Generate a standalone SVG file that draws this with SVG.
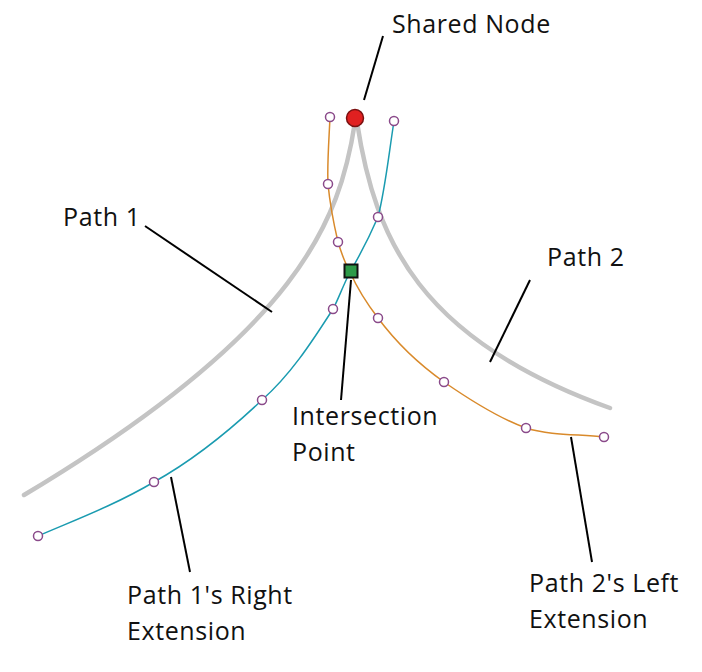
<svg xmlns="http://www.w3.org/2000/svg" width="702" height="672" viewBox="0 0 702 672">
<style>
.lbl{font-family:"Open Sans","Noto Sans",sans-serif;font-size:25px;letter-spacing:0.6px;fill:#111}
.leader{stroke:#000;stroke-width:2;fill:none}
.gray{stroke:#c4c4c4;stroke-width:4.5;fill:none;stroke-linecap:round}
.ext1{stroke:#1a9bb0;stroke-width:1.5;fill:none}
.ext2{stroke:#d98a2b;stroke-width:1.5;fill:none}
.pt{fill:#fff;stroke:#8a4a8a;stroke-width:1.5}
</style>
<rect width="702" height="672" fill="#fff"/>
<g id="connectors">
<path class="gray" d="M355,122 C340,220 300,330 24,495"/>
<path class="gray" d="M357,122 C375,240 420,340 610,408"/>
<path class="ext1" d="M394,121 C388,160 385,190 378,217 C368,240 360,255 350,272 C342,288 338,300 333,309 C310,345 290,375 262,400 C225,435 190,462 154,482 C115,505 75,520 38,536"/>
<path class="ext2" d="M330,117 C329,140 327,165 328,184 C330,205 334,225 338,242 C342,255 346,265 350,272 C358,290 368,305 378,318 C398,345 420,365 444,382 C470,400 498,418 526,428 C552,436 580,434 604,437"/>
<line class="leader" x1="383" y1="36" x2="364" y2="100"/>
<line class="leader" x1="145" y1="226" x2="272" y2="312"/>
<line class="leader" x1="530" y1="280" x2="490" y2="362"/>
<line class="leader" x1="351" y1="280" x2="341" y2="400"/>
<line class="leader" x1="171" y1="477" x2="190" y2="572"/>
<line class="leader" x1="571" y1="437" x2="592" y2="562"/>
</g>
<g id="ext-points">
<circle class="pt" cx="394" cy="121" r="4.5"/>
<circle class="pt" cx="378" cy="217" r="4.5"/>
<circle class="pt" cx="333" cy="309" r="4.5"/>
<circle class="pt" cx="262" cy="400" r="4.5"/>
<circle class="pt" cx="154" cy="482" r="4.5"/>
<circle class="pt" cx="38" cy="536" r="4.5"/>
<circle class="pt" cx="330" cy="117" r="4.5"/>
<circle class="pt" cx="328" cy="184" r="4.5"/>
<circle class="pt" cx="338" cy="242" r="4.5"/>
<circle class="pt" cx="378" cy="318" r="4.5"/>
<circle class="pt" cx="444" cy="382" r="4.5"/>
<circle class="pt" cx="526" cy="428" r="4.5"/>
<circle class="pt" cx="604" cy="437" r="4.5"/>
</g>
<g id="shared-node"><circle cx="355" cy="118" r="8.5" fill="#e02020" stroke="#7a1010" stroke-width="1.5"/></g>
<g id="intersection"><rect x="344.5" y="264.5" width="13" height="13" fill="#2e9a48" stroke="#111" stroke-width="2"/></g>
<g id="labels">
<text class="lbl" x="392" y="33">Shared Node</text>
<text class="lbl" x="63" y="226">Path 1</text>
<text class="lbl" x="547" y="266">Path 2</text>
<text class="lbl" x="292" y="425">Intersection</text>
<text class="lbl" x="292" y="461">Point</text>
<text class="lbl" x="127" y="604">Path 1's Right</text>
<text class="lbl" x="127" y="640">Extension</text>
<text class="lbl" x="529" y="592">Path 2's Left</text>
<text class="lbl" x="529" y="628">Extension</text>
</g>
</svg>
